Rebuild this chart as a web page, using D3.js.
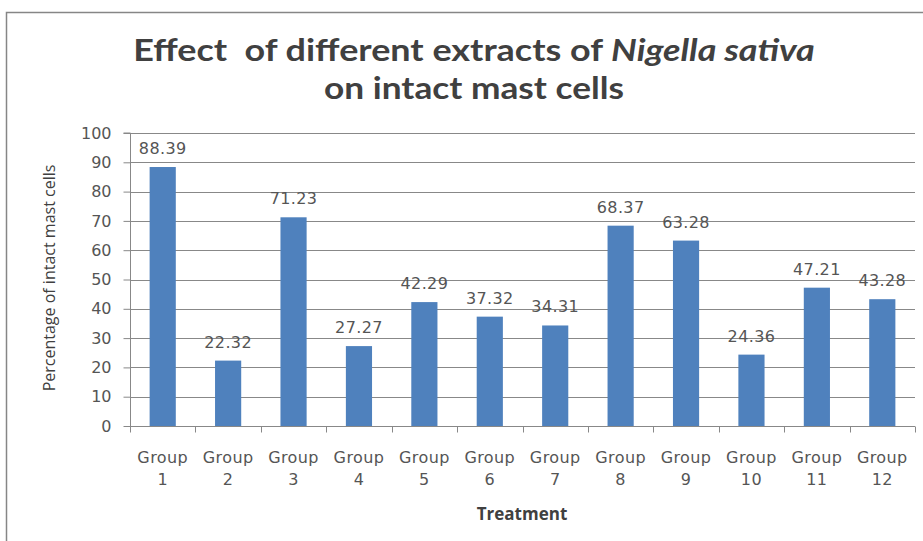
<!DOCTYPE html>
<html><head><meta charset="utf-8">
<script src="https://cdn.jsdelivr.net/npm/d3@7"></script>
<style>body{margin:0;background:#fff}svg{display:block}</style>
</head><body>
<svg id="c" width="923" height="541"></svg>
<script>
const categories = ["Group 1","Group 2","Group 3","Group 4","Group 5","Group 6","Group 7","Group 8","Group 9","Group 10","Group 11","Group 12"];
const values = [88.39,22.32,71.23,27.27,42.29,37.32,34.31,68.37,63.28,24.36,47.21,43.28];
const yTicks = [0,10,20,30,40,50,60,70,80,90,100];

const svg = d3.select("#c");
const m = {left:130, right:915, top:133, bottom:426};
const tickFont = "DejaVu Sans, Verdana, sans-serif";
// outer frame
svg.append("rect").attr("x",6.5).attr("y",12.5).attr("width",930).attr("height",540)
  .attr("fill","none").attr("stroke","#868686").attr("stroke-width",1.5);

const x = d3.scaleBand().domain(categories).range([m.left,m.right]).paddingInner(0.6).paddingOuter(0.3);
const xb = d3.scaleBand().domain(categories).range([m.left,m.right]);
const y = d3.scaleLinear().domain([0,100]).range([m.bottom,m.top]);

// grid
svg.append("g").selectAll("line").data(yTicks.filter(d=>d>0)).join("line")
  .attr("x1",m.left).attr("x2",m.right).attr("y1",d=>Math.round(y(d))+0.5).attr("y2",d=>Math.round(y(d))+0.5)
  .attr("stroke","#888").attr("stroke-width",1);

// y axis
const ya = svg.append("g").attr("transform",`translate(${m.left+0.5},0)`)
  .call(d3.axisLeft(y).tickValues(yTicks).tickSize(7).tickPadding(12));
ya.select(".domain").attr("stroke","#888").attr("d",`M-7,${m.top}H0V${m.bottom}`);
ya.selectAll(".tick line").attr("stroke","#888");
ya.selectAll("text").attr("font-family",tickFont).attr("font-size",16).attr("fill","#555");

// bars
svg.append("g").selectAll("rect").data(values).join("rect")
  .attr("x",(d,i)=>x(categories[i])).attr("width",x.bandwidth())
  .attr("y",d=>y(d)).attr("height",d=>y(0)-y(d)).attr("fill","#4F81BD");

// value labels
svg.append("g").selectAll("text").data(values).join("text")
  .attr("x",(d,i)=>x(categories[i])+x.bandwidth()/2).attr("y",d=>y(d)-13)
  .attr("text-anchor","middle").attr("font-family",tickFont).attr("letter-spacing",0.4)
  .attr("font-size",16).attr("fill","#555").text(d=>d.toFixed(2));

// x axis
const xa = svg.append("g").attr("transform",`translate(0,${m.bottom+0.5})`);
xa.append("line").attr("x1",m.left).attr("x2",m.right).attr("stroke","#888");
xa.selectAll("line.t").data(categories.concat(["end"])).join("line").attr("class","t")
  .attr("x1",(d,i)=>i<categories.length?Math.round(xb(d))+0.5:m.right+0.5)
  .attr("x2",(d,i)=>i<categories.length?Math.round(xb(d))+0.5:m.right+0.5)
  .attr("y1",0).attr("y2",6).attr("stroke","#888");
const lab = xa.selectAll("text").data(categories).join("text")
  .attr("text-anchor","middle").attr("font-family",tickFont).attr("letter-spacing",0.4)
  .attr("font-size",16).attr("fill","#555");
lab.each(function(d,i){
  const parts = d.split(" ");
  const t = d3.select(this);
  const cx = xb(d)+xb.bandwidth()/2;
  t.append("tspan").attr("x",cx).attr("y",36).text(parts[0]);
  t.append("tspan").attr("x",cx).attr("y",58).text(parts[1]);
});

// titles (Calibri-like: Lato bold, stretched horizontally to the reference width)
function titleLine(yPos, build, targetW){
  const g = svg.append("g");
  const t = g.append("text").attr("x",0).attr("y",0).attr("text-anchor","middle")
    .attr("font-family","Lato, sans-serif").attr("font-weight","bold").attr("font-size",30).attr("fill","#404040");
  build(t);
  const w = t.node().getComputedTextLength();
  g.attr("transform",`translate(474,${yPos}) scale(${targetW/w},1)`);
}
titleLine(61, t=>{ t.append("tspan").text("Effect\u00a0 of different extracts of "); t.append("tspan").attr("font-style","italic").text("Nigella sativa"); }, 682);
titleLine(99, t=>{ t.text("on intact mast cells"); }, 300);

svg.append("text").attr("transform","translate(55,278) rotate(-90)").attr("text-anchor","middle")
  .attr("font-family","Open Sans, sans-serif").attr("font-size",16).attr("fill","#404040")
  .text("Percentage of intact mast cells");
svg.append("text").attr("x",522).attr("y",520).attr("text-anchor","middle")
  .attr("font-family","Open Sans, sans-serif").attr("font-weight","bold").attr("font-size",17).attr("fill","#404040")
  .text("Treatment");
</script>
</body></html>
